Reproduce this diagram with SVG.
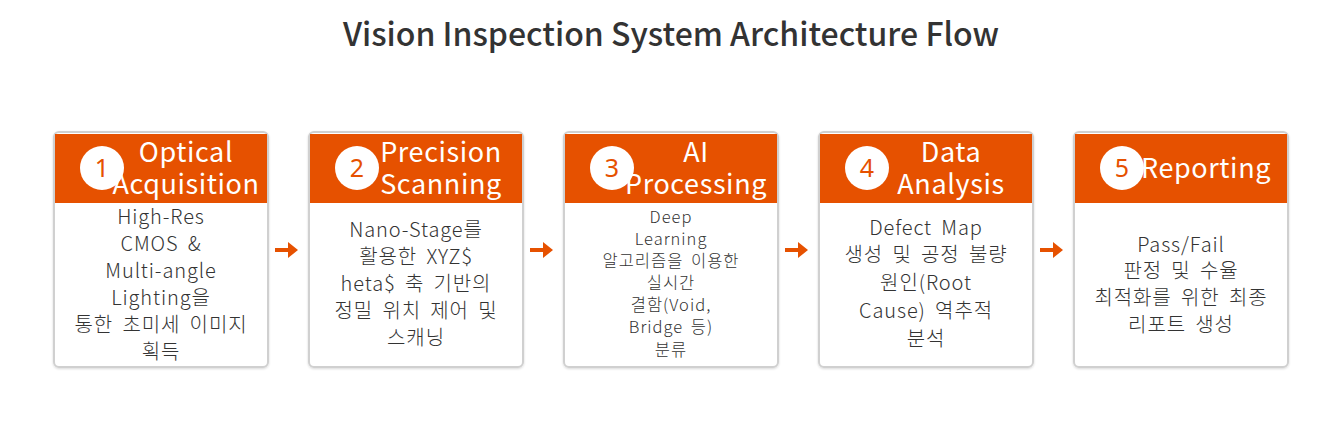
<svg xmlns="http://www.w3.org/2000/svg" width="1341" height="424" viewBox="0 0 1341 424">
<defs>
<style>
.card{fill:#fff;stroke:#d0d0d0;stroke-width:2}
.hdr{fill:#e65100}
.circ{fill:#fff}
.num{fill:#e65100;font-family:"Noto Sans","Noto Sans CJK KR",sans-serif;font-size:25px;text-anchor:middle}
.ht{fill:#fff;font-family:"Noto Sans CJK KR","Noto Sans",sans-serif;font-size:27px;text-anchor:middle;letter-spacing:0.6px}
.bt{fill:#333;font-family:"Noto Sans CJK KR","Noto Sans",sans-serif;font-size:20px;font-weight:300;text-anchor:middle;letter-spacing:0.9px;word-spacing:4px}
.bs{fill:#333;font-family:"Noto Sans CJK KR","Noto Sans",sans-serif;font-size:16.5px;font-weight:300;text-anchor:middle;letter-spacing:1px;word-spacing:3px}
.title{fill:#333;font-family:"Noto Sans CJK KR","Noto Sans",sans-serif;font-size:32px;font-weight:500;text-anchor:middle}
.arr{fill:#e65100}
</style>
<filter id="sh" x="-5%" y="-5%" width="110%" height="110%"><feDropShadow dx="0" dy="1" stdDeviation="1.2" flood-color="#000" flood-opacity="0.15"/></filter>
</defs>
<rect width="1341" height="424" fill="#fff"/>
<text class="title" x="671" y="46">Vision Inspection System Architecture Flow</text>

<g id="connectors">
<path class="arr" d="M275,248 h13 v-6 l10,8 l-10,8 v-6 h-13z"/>
<path class="arr" d="M530,248 h13 v-6 l10,8 l-10,8 v-6 h-13z"/>
<path class="arr" d="M785,248 h13 v-6 l10,8 l-10,8 v-6 h-13z"/>
<path class="arr" d="M1040,248 h13 v-6 l10,8 l-10,8 v-6 h-13z"/>
</g>

<g id="node1">
<rect class="card" x="54" y="132" width="214" height="235" rx="5" filter="url(#sh)"/>
<rect class="hdr" x="55" y="134" width="212" height="69"/>
<circle class="circ" cx="102" cy="168" r="22"/>
<text class="num" x="102" y="177">1</text>
<text class="ht" x="186" y="162">Optical</text>
<text class="ht" x="186" y="194">Acquisition</text>
<text class="bt" x="161" y="224">High-Res</text>
<text class="bt" x="161" y="251">CMOS &amp;</text>
<text class="bt" x="161" y="278">Multi-angle</text>
<text class="bt" x="161" y="305">Lighting을</text>
<text class="bt" x="161" y="332">통한 초미세 이미지</text>
<text class="bt" x="161" y="359">획득</text>
</g>

<g id="node2">
<rect class="card" x="309" y="132" width="214" height="235" rx="5" filter="url(#sh)"/>
<rect class="hdr" x="310" y="134" width="212" height="69"/>
<circle class="circ" cx="357" cy="168" r="22"/>
<text class="num" x="357" y="177">2</text>
<text class="ht" x="441" y="162">Precision</text>
<text class="ht" x="441" y="194">Scanning</text>
<text class="bt" x="416" y="237">Nano-Stage를</text>
<text class="bt" x="416" y="264">활용한 XYZ$</text>
<text class="bt" x="416" y="291">heta$ 축 기반의</text>
<text class="bt" x="416" y="318">정밀 위치 제어 및</text>
<text class="bt" x="416" y="345">스캐닝</text>
</g>

<g id="node3">
<rect class="card" x="564" y="132" width="214" height="235" rx="5" filter="url(#sh)"/>
<rect class="hdr" x="565" y="134" width="212" height="69"/>
<circle class="circ" cx="612" cy="168" r="22"/>
<text class="num" x="612" y="177">3</text>
<text class="ht" x="696" y="162">AI</text>
<text class="ht" x="696" y="194">Processing</text>
<text class="bs" x="671" y="223">Deep</text>
<text class="bs" x="671" y="245">Learning</text>
<text class="bs" x="671" y="267">알고리즘을 이용한</text>
<text class="bs" x="671" y="289">실시간</text>
<text class="bs" x="671" y="311">결함(Void,</text>
<text class="bs" x="671" y="333">Bridge 등)</text>
<text class="bs" x="671" y="356">분류</text>
</g>

<g id="node4">
<rect class="card" x="819" y="132" width="214" height="235" rx="5" filter="url(#sh)"/>
<rect class="hdr" x="820" y="134" width="212" height="69"/>
<circle class="circ" cx="867" cy="168" r="22"/>
<text class="num" x="867" y="177">4</text>
<text class="ht" x="951" y="162">Data</text>
<text class="ht" x="951" y="194">Analysis</text>
<text class="bt" x="926" y="235">Defect Map</text>
<text class="bt" x="926" y="262">생성 및 공정 불량</text>
<text class="bt" x="926" y="290">원인(Root</text>
<text class="bt" x="926" y="318">Cause) 역추적</text>
<text class="bt" x="926" y="346">분석</text>
</g>

<g id="node5">
<rect class="card" x="1074" y="132" width="214" height="235" rx="5" filter="url(#sh)"/>
<rect class="hdr" x="1075" y="134" width="212" height="69"/>
<circle class="circ" cx="1122" cy="168" r="22"/>
<text class="num" x="1122" y="177">5</text>
<text class="ht" x="1206" y="178">Reporting</text>
<text class="bt" x="1181" y="252">Pass/Fail</text>
<text class="bt" x="1181" y="278">판정 및 수율</text>
<text class="bt" x="1181" y="305">최적화를 위한 최종</text>
<text class="bt" x="1181" y="332">리포트 생성</text>
</g>
</svg>
